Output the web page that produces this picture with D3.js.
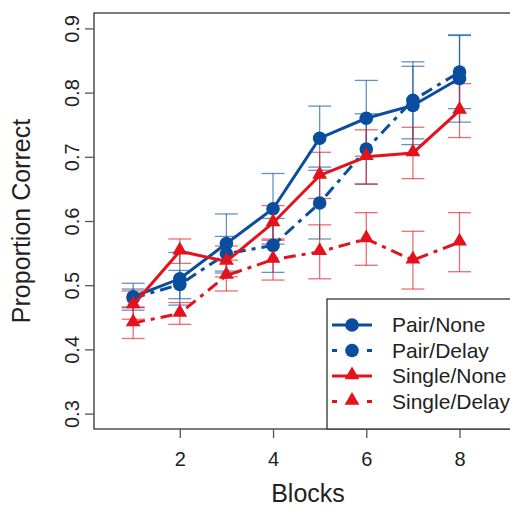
<!DOCTYPE html>
<html>
<head>
<meta charset="utf-8">
<script src="https://cdn.jsdelivr.net/npm/d3@7"></script>
<style>
  body { margin: 0; background: #fff; }
  text { font-family: "Liberation Sans", Arial, sans-serif; fill: #222; }
</style>
</head>
<body>
<svg width="510" height="506"></svg>
<script>
// values (mean and half-width of the error bar)
var blocks = [1, 2, 3, 4, 5, 6, 7, 8];
var pairNone = [0.482, 0.510, 0.565, 0.619, 0.729, 0.760, 0.780, 0.822];
var pairNoneErr = [0.021, 0.041, 0.046, 0.055, 0.050, 0.059, 0.061, 0.068];
var pairDelay = [0.480, 0.501, 0.549, 0.562, 0.628, 0.712, 0.788, 0.832];
var pairDelayErr = [0.014, 0.022, 0.027, 0.042, 0.056, 0.055, 0.060, 0.057];
var singleNone = [0.469, 0.553, 0.537, 0.597, 0.671, 0.700, 0.706, 0.772];
var singleNoneErr = [0.022, 0.019, 0.024, 0.027, 0.036, 0.042, 0.040, 0.042];
var singleDelay = [0.441, 0.456, 0.515, 0.540, 0.552, 0.572, 0.539, 0.567];
var singleDelayErr = [0.024, 0.017, 0.024, 0.032, 0.042, 0.041, 0.045, 0.046];

var xTicks = [2, 4, 6, 8];
var yTicks = [0.3, 0.4, 0.5, 0.6, 0.7, 0.8, 0.9];
var seriesNames = ["Pair/None", "Pair/Delay", "Single/None", "Single/Delay"];

var blue = "#0a4d9e", red = "#e3121c";
var dash = "12,6,4,6";

var series = [
  { name: seriesNames[0], y: pairNone, e: pairNoneErr, color: blue, shape: "circle", dash: null },
  { name: seriesNames[1], y: pairDelay, e: pairDelayErr, color: blue, shape: "circle", dash: dash },
  { name: seriesNames[2], y: singleNone, e: singleNoneErr, color: red, shape: "triangle", dash: null },
  { name: seriesNames[3], y: singleDelay, e: singleDelayErr, color: red, shape: "triangle", dash: dash }
];

var svg = d3.select("svg");
var pLeft = 94, pRight = 522, pTop = 13, pBottom = 429;

// R style: xlim c(0.5, 9), ylim c(0.3, 0.9), both padded by 4%
var x = d3.scaleLinear().domain([0.16, 9.34]).range([pLeft, pRight]);
var y = d3.scaleLinear().domain([0.276, 0.924]).range([pBottom, pTop]);

var capW = 11.5;

// error bars
var eb = svg.append("g").attr("stroke-width", 1.3).attr("stroke-opacity", 0.62);
series.forEach(function(s) {
  var g = eb.append("g").attr("stroke", s.color);
  blocks.forEach(function(b, i) {
    var cx = x(b), lo = y(s.y[i] - s.e[i]), hi = y(s.y[i] + s.e[i]);
    g.append("line").attr("x1", cx).attr("x2", cx).attr("y1", lo).attr("y2", hi);
    g.append("line").attr("x1", cx - capW).attr("x2", cx + capW).attr("y1", lo).attr("y2", lo);
    g.append("line").attr("x1", cx - capW).attr("x2", cx + capW).attr("y1", hi).attr("y2", hi);
  });
});

var line = d3.line()
  .x(function(d) { return x(d[0]); })
  .y(function(d) { return y(d[1]); });

var tri = d3.symbol().type(d3.symbolTriangle).size(95);

function marker(g, s, cx, cy) {
  if (s.shape === "circle") {
    g.append("circle").attr("cx", cx).attr("cy", cy).attr("r", 6.8).attr("fill", s.color);
  } else {
    g.append("path").attr("d", tri).attr("transform", "translate(" + cx + "," + (cy - 1) + ")").attr("fill", s.color);
  }
}

series.forEach(function(s) {
  var pts = blocks.map(function(b, i) { return [b, s.y[i]]; });
  var g = svg.append("g");
  g.append("path").datum(pts)
    .attr("d", line)
    .attr("fill", "none")
    .attr("stroke", s.color)
    .attr("stroke-width", 3)
    .attr("stroke-dasharray", s.dash);
  pts.forEach(function(p) { marker(g, s, x(p[0]), y(p[1])); });
});

// box
svg.append("rect")
  .attr("x", pLeft).attr("y", pTop)
  .attr("width", pRight - pLeft).attr("height", pBottom - pTop)
  .attr("fill", "none").attr("stroke", "#333").attr("stroke-width", 1.3);

// axes
var xAxis = svg.append("g").attr("transform", "translate(0," + pBottom + ")")
  .call(d3.axisBottom(x).tickValues(xTicks).tickSize(9).tickPadding(14).tickFormat(d3.format("d")));
var yAxis = svg.append("g").attr("transform", "translate(" + pLeft + ",0)")
  .call(d3.axisLeft(y).tickValues(yTicks).tickSize(9).tickFormat(d3.format(".1f")));
[xAxis, yAxis].forEach(function(a) {
  a.attr("font-size", null).attr("font-family", null);
  a.select(".domain").remove();
  a.selectAll(".tick line").attr("stroke", "#555").attr("stroke-width", 1.3);
  a.selectAll(".tick text").style("font-size", "20px").attr("fill", "#222");
});
yAxis.selectAll(".tick text")
  .attr("x", null).attr("dy", null)
  .attr("text-anchor", "middle")
  .attr("transform", "translate(-15,0) rotate(-90)");

svg.append("text")
  .attr("x", (pLeft + pRight) / 2).attr("y", 502)
  .attr("text-anchor", "middle").style("font-size", "25px")
  .text("Blocks");
svg.append("text")
  .attr("transform", "translate(30," + (pTop + pBottom) / 2 + ") rotate(-90)")
  .attr("text-anchor", "middle").style("font-size", "25px")
  .text("Proportion Correct");

// legend, bottom right
var lg = svg.append("g");
lg.append("rect").attr("x", 327).attr("y", 299)
  .attr("width", pRight - 327).attr("height", pBottom - 299)
  .attr("fill", "#fff").attr("stroke", "#333").attr("stroke-width", 1.3);
series.forEach(function(s, i) {
  var ly = 325 + i * 25.5;
  lg.append("line").attr("x1", 332).attr("x2", 372).attr("y1", ly).attr("y2", ly)
    .attr("stroke", s.color).attr("stroke-width", 3)
    .attr("stroke-dasharray", s.dash ? "5,12.5" : null);
  marker(lg, s, 352, ly);
  lg.append("text").attr("x", 392).attr("y", ly).attr("dy", "0.35em")
    .style("font-size", "21px").text(s.name);
});
</script>
</body>
</html>
